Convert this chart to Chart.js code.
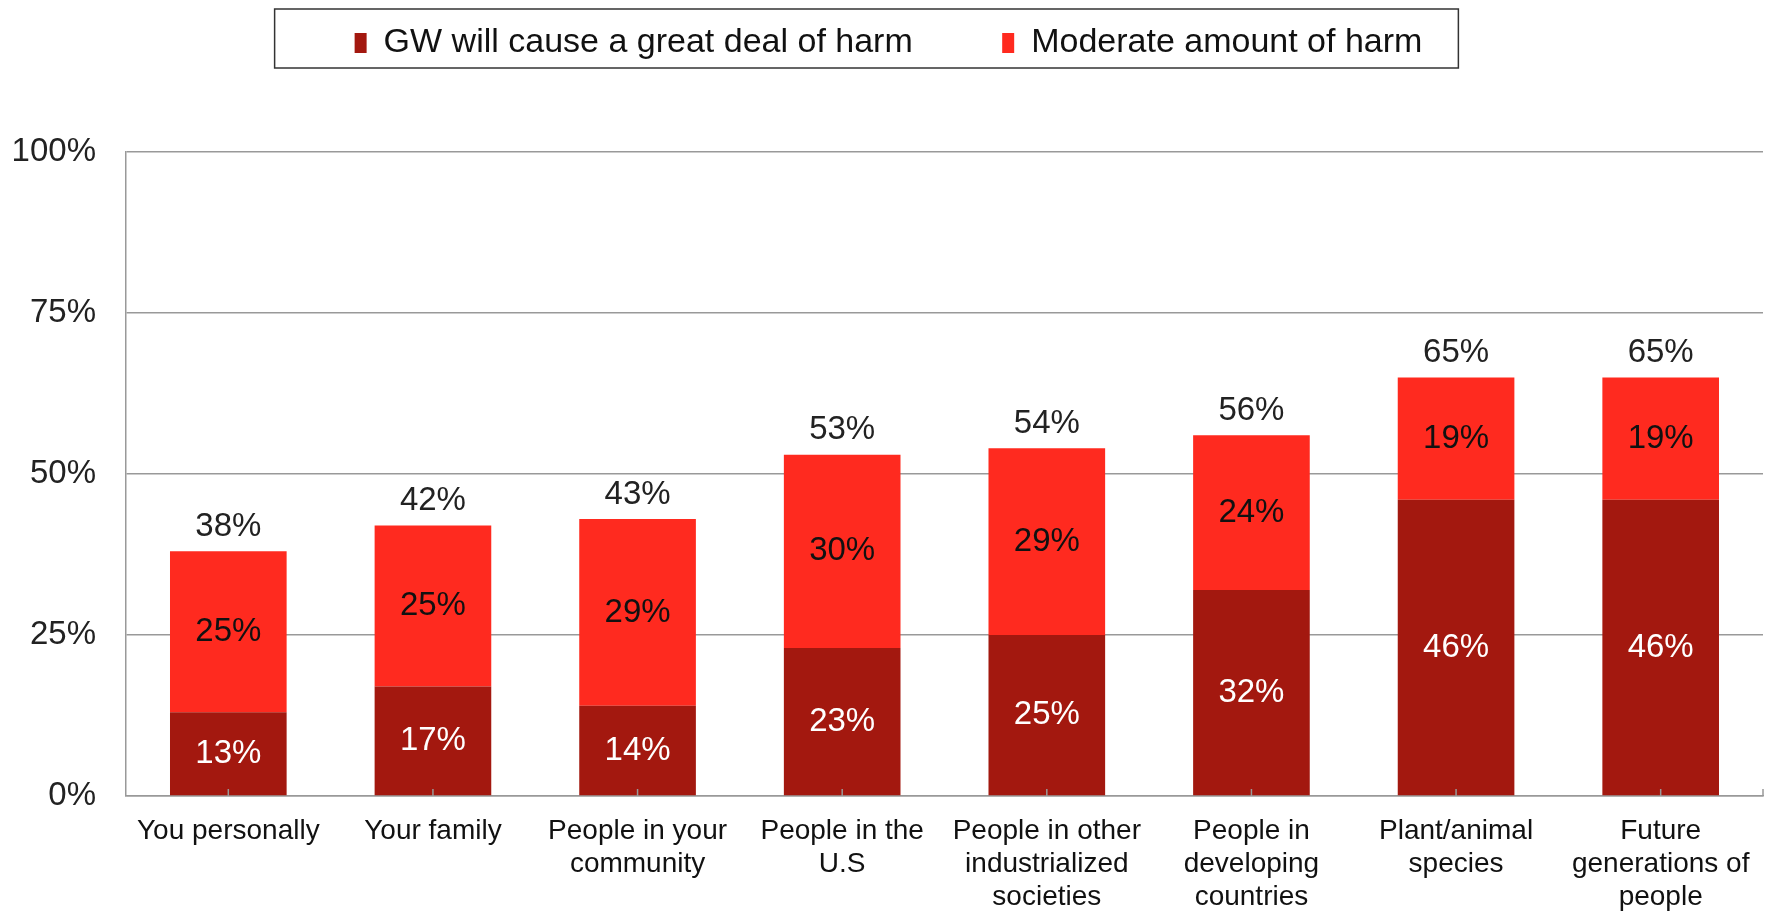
<!DOCTYPE html>
<html>
<head>
<meta charset="utf-8">
<script src="https://cdn.jsdelivr.net/npm/chart.js@4.4.1/dist/chart.umd.min.js"></script>
<style>
  html, body { margin: 0; padding: 0; background: #fff; }
  #wrap { width: 1771px; height: 912px; }
</style>
</head>
<body>
<div id="wrap"><canvas id="harm"></canvas></div>
<script>
// categories (multi-line labels as shown under the bars)
const labels = [
  ["You personally"],
  ["Your family"],
  ["People in your", "community"],
  ["People in the", "U.S"],
  ["People in other", "industrialized", "societies"],
  ["People in", "developing", "countries"],
  ["Plant/animal", "species"],
  ["Future", "generations of", "people"]
];
const greatDeal = [13, 17, 14, 23, 25, 32, 46, 46];
const moderate  = [25, 25, 29, 30, 29, 24, 19, 19];
const totals    = [38, 42, 43, 53, 54, 56, 65, 65];
const yTicks    = [0, 25, 50, 75, 100];

const darkRed = "#a3180f";
const brightRed = "#ff2a1f";
const fontFam = "'Liberation Sans', Arial, Helvetica, sans-serif";

// pushes the plot down below the legend
const legendSpace = {
  id: "legendSpace",
  beforeInit(chart) {
    const fit = chart.legend.fit;
    chart.legend.fit = function () {
      fit.bind(chart.legend)();
      this.height += 82;
    };
  }
};

// box around the legend + small inward ticks on the x axis
const extras = {
  id: "extras",
  afterDraw(chart) {
    const ctx = chart.ctx;
    const boxes = chart.legend.legendHitBoxes;
    if (boxes && boxes.length) {
      const first = boxes[0], last = boxes[boxes.length - 1];
      ctx.save();
      ctx.strokeStyle = "#333";
      ctx.lineWidth = 1.5;
      ctx.strokeRect(first.left - 80, 9, (last.left + last.width + 36) - (first.left - 80), 59);
      ctx.restore();
    }
    const x = chart.scales.x, area = chart.chartArea;
    ctx.save();
    ctx.strokeStyle = "#999";
    ctx.lineWidth = 1.5;
    ctx.beginPath();
    labels.forEach((l, i) => {
      const px = x.getPixelForValue(i);
      ctx.moveTo(px, area.bottom);
      ctx.lineTo(px, area.bottom - 7);
    });
    ctx.moveTo(area.right, area.bottom);
    ctx.lineTo(area.right, area.bottom - 7);
    ctx.stroke();
    ctx.restore();
  }
};

// value labels inside segments and totals on top
const valueLabels = {
  id: "valueLabels",
  afterDatasetsDraw(chart) {
    const ctx = chart.ctx;
    ctx.save();
    ctx.font = "33px " + fontFam;
    ctx.textAlign = "center";
    ctx.textBaseline = "middle";
    chart.data.datasets.forEach((ds, di) => {
      const meta = chart.getDatasetMeta(di);
      meta.data.forEach((bar, i) => {
        ctx.fillStyle = di === 0 ? "#ffffff" : "#111111";
        ctx.fillText(ds.data[i] + "%", bar.x, (bar.y + bar.base) / 2);
      });
    });
    const top = chart.getDatasetMeta(1);
    ctx.fillStyle = "#222";
    ctx.textBaseline = "bottom";
    top.data.forEach((bar, i) => {
      ctx.fillText(totals[i] + "%", bar.x, bar.y - 8);
    });
    ctx.restore();
  }
};

new Chart(document.getElementById("harm"), {
  type: "bar",
  data: {
    labels: labels,
    datasets: [
      {
        label: "GW will cause a great deal of harm",
        data: greatDeal,
        backgroundColor: darkRed
      },
      {
        label: "Moderate amount of harm",
        data: moderate,
        backgroundColor: brightRed
      }
    ]
  },
  options: {
    responsive: true,
    maintainAspectRatio: false,
    animation: false,
    layout: { padding: { left: 14, right: 8, top: 14, bottom: 0 } },
    datasets: {
      bar: { categoryPercentage: 1.0, barPercentage: 0.57 }
    },
    plugins: {
      tooltip: { enabled: false },
      legend: {
        position: "top",
        labels: {
          boxWidth: 12,
          boxHeight: 20,
          padding: 12,
          color: "#111",
          font: { family: fontFam, size: 34 },
          generateLabels(chart) {
            const items = Chart.defaults.plugins.legend.labels.generateLabels(chart);
            items[0].text += "\u2003\u2003 ";
            return items;
          }
        }
      }
    },
    scales: {
      x: {
        stacked: true,
        grid: { display: false, drawTicks: false },
        border: { color: "#999", width: 1.5 },
        ticks: {
          color: "#111",
          padding: 19,
          maxRotation: 0,
          autoSkip: false,
          font: { family: fontFam, size: 28, lineHeight: 1.18 }
        },
        afterFit(axis) {
          axis.paddingLeft = 0;
          axis.paddingRight = 0;
          axis.height = 116;
        }
      },
      y: {
        stacked: true,
        min: 0,
        max: 100,
        afterBuildTicks(axis) {
          axis.ticks = yTicks.map(v => ({ value: v }));
        },
        grid: { color: "#999", lineWidth: 1.5, drawTicks: false },
        border: { color: "#999", width: 1.5 },
        ticks: {
          color: "#222",
          padding: 30,
          font: { family: fontFam, size: 33 },
          callback: v => v + "%"
        },
        afterFit(axis) {
          axis.width = 112;
          axis.paddingTop = 0;
          axis.paddingBottom = 0;
        }
      }
    }
  },
  plugins: [legendSpace, extras, valueLabels]
});
</script>
</body>
</html>
